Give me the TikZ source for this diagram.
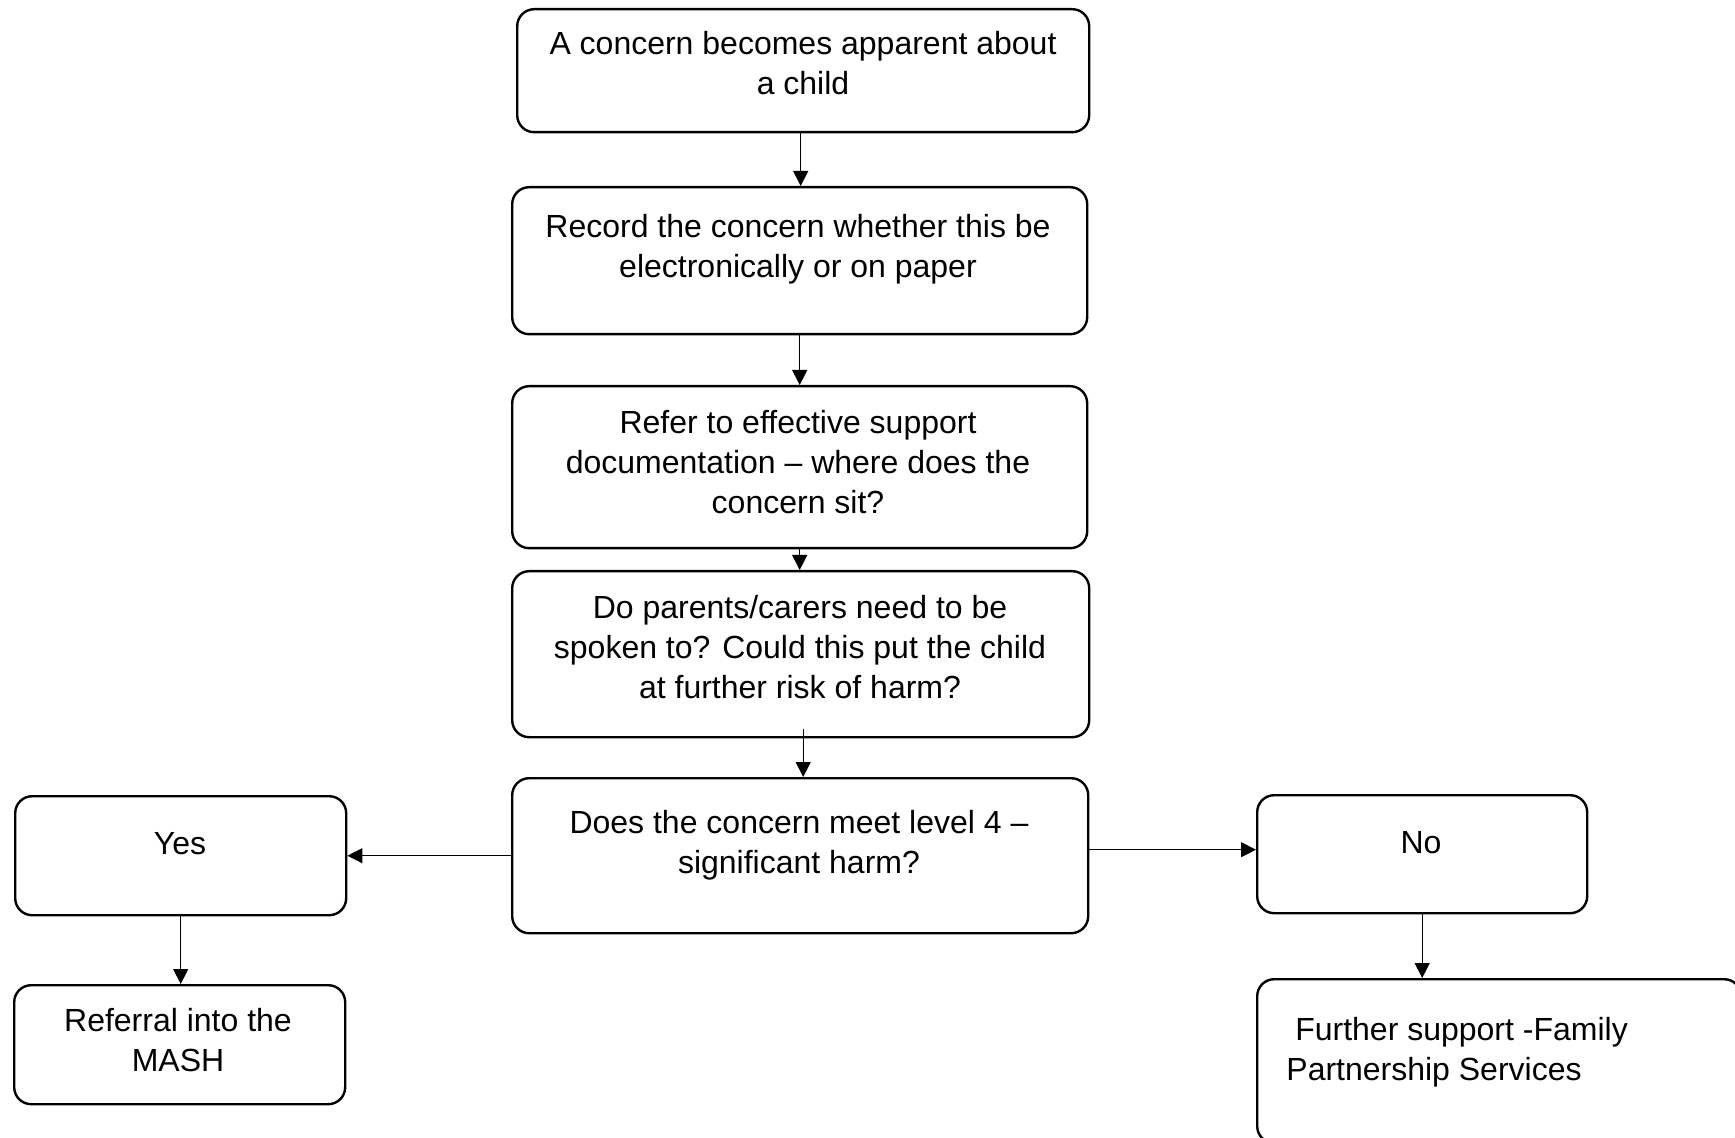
\documentclass[tikz,border=0pt]{standalone}
\usepackage{fontspec}
\setmainfont{Liberation Sans}
\usetikzlibrary{arrows.meta,calc}
\begin{document}
\begin{tikzpicture}[x=0.5pt,y=-0.5pt,
  box/.style={draw=black,line width=1.2pt,rounded corners=8.5pt,inner sep=0pt,anchor=north west},
  txt/.style={inner sep=0pt,align=center,font=\fontsize{16pt}{20pt}\selectfont},
  txtl/.style={inner sep=0pt,align=left,font=\fontsize{16pt}{20pt}\selectfont},
  arr/.style={draw=black,line width=0.6pt,-{Triangle[length=7.5pt,width=7.5pt]}}]
\useasboundingbox (0,0) rectangle (1735,1138);
\fill[white] (0,0) rectangle (1735,1138);
% boxes
\node[box,minimum width=286pt,minimum height=61.5pt] (b1) at (516,8) {};
\node[box,minimum width=287.5pt,minimum height=73.5pt] (b2) at (511,186) {};
\node[box,minimum width=287.5pt,minimum height=81pt] (b3) at (511,385) {};
\node[box,minimum width=288.5pt,minimum height=83pt] (b4) at (511,570) {};
\node[box,minimum width=288pt,minimum height=77.5pt] (b5) at (511,777) {};
\node[box,minimum width=165.5pt,minimum height=59.5pt] (yes) at (14,795) {};
\node[box,minimum width=165.5pt,minimum height=59.5pt] (ref) at (13,984) {};
\node[box,minimum width=165pt,minimum height=59pt] (no) at (1256,794) {};
\node[box,minimum width=242pt,minimum height=82pt] (fur) at (1256,978) {};
% texts
\node[txt] (t1) at (803,63.5) {A concern becomes apparent about\\a child};
\node[txt] (t2) at (798,249) {Record the concern whether this be\\electronically or on paper};
\node[txt] (t3) at (798,462.5) {Refer to effective support\\documentation – where does the\\concern sit?};
\node[txt] (t4) at (800,647.5) {Do parents/carers need to be\\spoken to? Could this put the child\\at further risk of harm?};
\node[txt] (t5) at (799,845) {Does the concern meet level 4 –\\significant harm?};
\node[txt] (tyes) at (180,844) {Yes};
\node[txt] (tno) at (1421,843) {No};
\node[txt] (tref) at (178,1040) {Referral into the\\MASH};
\node[txtl,anchor=west] (tfur) at (1286,1052) {\ Further support -Family\\Partnership Services};
% connectors
\draw[arr] ([xshift=-1.25pt]b1.south) -- ([xshift=-1.25pt]b1.south |- b2.north);
\draw[arr] (b2.south) -- (b2.south |- b3.north);
\draw[arr] (b3.south) -- (b3.south |- b4.north);
\draw[arr] ([xshift=1.25pt,yshift=4.5pt]b4.south) -- ([xshift=1.25pt]b4.south |- b5.north);
\draw[arr] (b5.west) -- (b5.west -| yes.east);
\draw[arr] ([yshift=3pt]b5.east) -- ([yshift=3pt]b5.east -| no.west);
\draw[arr] (yes.south) -- (yes.south |- ref.north);
\draw[arr] (no.south) -- (no.south |- fur.north);
\end{tikzpicture}
\end{document}
